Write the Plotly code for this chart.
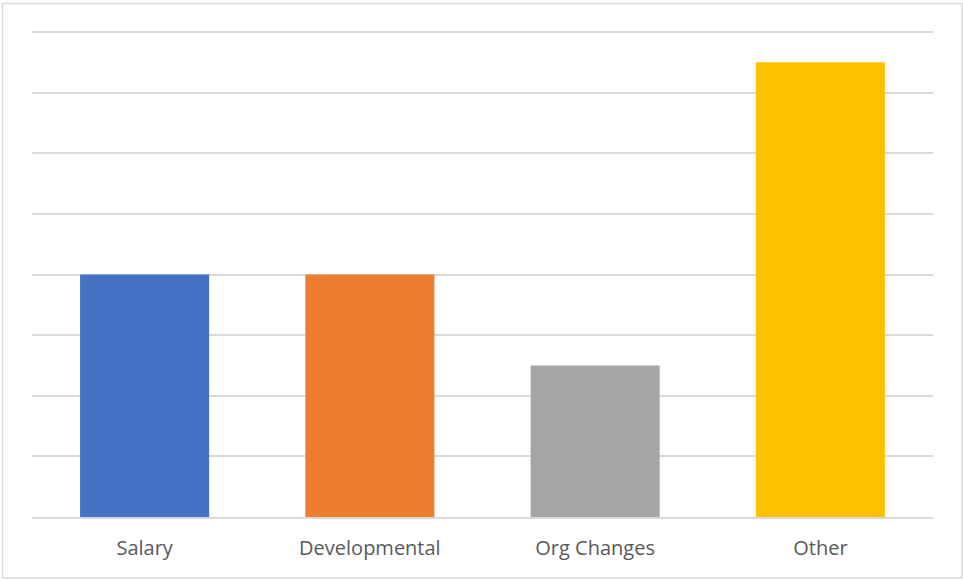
import plotly.graph_objects as go

categories = ["Salary", "Developmental", "Org Changes", "Other"]
values = [4, 4, 2.5, 7.5]
colors = ["#4472C4", "#ED7D31", "#A5A5A5", "#FFC000"]

fig = go.Figure(go.Bar(x=categories, y=values, marker=dict(color=colors, line=dict(width=0))))

W, H = 963, 580
ml, mr, mt, mb = 32, 30, 26, 63
pw, ph = W - ml - mr, H - mt - mb

def px_x(x):
    return (x - ml) / pw

def px_y(y):
    return (H - mb - y) / ph

fig.update_layout(
    width=W, height=H,
    margin=dict(l=ml, r=mr, t=mt, b=mb),
    paper_bgcolor="white", plot_bgcolor="white",
    bargap=0.427,
    showlegend=False,
    xaxis=dict(showgrid=False, showline=True, linecolor="#d9d9d9", linewidth=1.5,
               ticks="", tickfont=dict(family="Open Sans", size=20, color="#595959"),
               ticklabelstandoff=12),
    yaxis=dict(range=[0, 8.1], tickvals=[1, 2, 3, 4, 5, 6, 7, 8], showticklabels=False, showgrid=True,
               gridcolor="#d9d9d9", gridwidth=1.5, zeroline=False, showline=False),
    shapes=[dict(type="rect", xref="paper", yref="paper",
                 x0=px_x(2.5), x1=px_x(962), y0=px_y(578), y1=px_y(3.5),
                 line=dict(color="#d9d9d9", width=1.5), fillcolor="rgba(0,0,0,0)", layer="below")],
)

fig.write_html("out.html")
